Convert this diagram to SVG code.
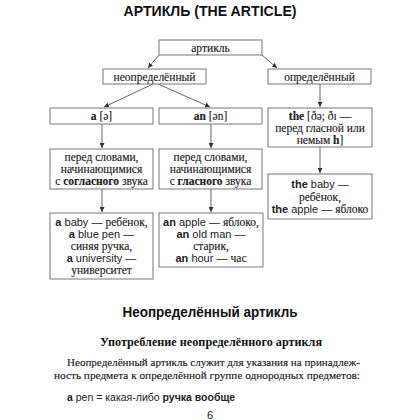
<svg xmlns="http://www.w3.org/2000/svg" width="420" height="420" viewBox="0 0 420 420">
<defs>
<marker id="ah" viewBox="0 0 8 8" refX="8" refY="4" markerWidth="5" markerHeight="5" orient="auto" markerUnits="userSpaceOnUse">
<path d="M0,0 L8,4 L0,8 z" fill="#333"/>
</marker>
</defs>
<style>
.box{fill:#fff;stroke:#777;stroke-width:1}
.ln{stroke:#555;stroke-width:0.9;fill:none;marker-end:url(#ah)}
.sr{font-size:11.5px;fill:#222;stroke:#222;stroke-width:0.15;text-anchor:middle}
.ss{font-size:11px;stroke:none}
.b{font-weight:bold}
</style>
<rect width="420" height="420" fill="#fff"/>
<text x="210" y="15.5" font-family="Liberation Sans, Arial, sans-serif" font-weight="bold" font-size="15" text-anchor="middle" fill="#111" textLength="173" lengthAdjust="spacingAndGlyphs">АРТИКЛЬ (THE ARTICLE)</text>

<g id="connectors">
<line class="ln" x1="159" y1="55" x2="148" y2="68"/>
<line class="ln" x1="262" y1="55" x2="277" y2="68"/>
<line class="ln" x1="153" y1="84" x2="104" y2="107"/>
<line class="ln" x1="158" y1="84" x2="210" y2="107"/>
<line class="ln" x1="320" y1="84" x2="320" y2="107"/>
<line class="ln" x1="102" y1="124" x2="102" y2="148"/>
<line class="ln" x1="211" y1="124" x2="211" y2="148"/>
<line class="ln" x1="102" y1="189" x2="102" y2="212"/>
<line class="ln" x1="211" y1="189" x2="211" y2="212"/>
<line class="ln" x1="320" y1="147" x2="320" y2="173"/>
</g>

<g id="nodes" font-family="Liberation Serif, DejaVu Serif, serif">
<g id="n-artikl">
<rect class="box" x="159" y="40" width="103" height="15"/>
<text class="sr" x="210.5" y="51.5">артикль</text>
</g>
<g id="n-neopr">
<rect class="box" x="103" y="69" width="103" height="15"/>
<text class="sr" x="154.5" y="80.5">неопределённый</text>
</g>
<g id="n-opr">
<rect class="box" x="268" y="69" width="103" height="15"/>
<text class="sr" x="319.5" y="80.5">определённый</text>
</g>
<g id="n-a">
<rect class="box" x="50" y="108" width="103" height="16"/>
<text class="sr" x="101.5" y="120"><tspan class="b">a</tspan> [ə]</text>
</g>
<g id="n-an">
<rect class="box" x="159" y="108" width="103" height="16"/>
<text class="sr" x="210.5" y="120"><tspan class="b">an</tspan> [ən]</text>
</g>
<g id="n-the">
<rect class="box" x="268" y="108" width="104" height="39"/>
<text class="sr" x="320" y="119.5"><tspan class="b">the</tspan> [ðə; ðɪ —</text>
<text class="sr" x="320" y="131.5">перед гласной или</text>
<text class="sr" x="320" y="143.5">немым <tspan class="b">h</tspan>]</text>
</g>
<g id="n-cons">
<rect class="box" x="50" y="149" width="103" height="40"/>
<text class="sr" x="101.5" y="160.5">перед словами,</text>
<text class="sr" x="101.5" y="172.5">начинающимися</text>
<text class="sr" x="101.5" y="184.5">с <tspan class="b">согласного</tspan> звука</text>
</g>
<g id="n-vow">
<rect class="box" x="159" y="149" width="103" height="40"/>
<text class="sr" x="210.5" y="160.5">перед словами,</text>
<text class="sr" x="210.5" y="172.5">начинающимися</text>
<text class="sr" x="210.5" y="184.5">с <tspan class="b">гласного</tspan> звука</text>
</g>
<g id="n-a-ex">
<rect class="box" x="50" y="213" width="103" height="66"/>
<text class="sr" x="101.5" y="226"><tspan class="ss b" font-family="Liberation Sans, Arial, sans-serif">a</tspan><tspan class="ss" font-family="Liberation Sans, Arial, sans-serif"> baby — </tspan>ребёнок,</text>
<text class="sr" x="101.5" y="238"><tspan class="ss b" font-family="Liberation Sans, Arial, sans-serif">a</tspan><tspan class="ss" font-family="Liberation Sans, Arial, sans-serif"> blue pen —</tspan></text>
<text class="sr" x="101.5" y="250">синяя ручка,</text>
<text class="sr" x="101.5" y="262"><tspan class="ss b" font-family="Liberation Sans, Arial, sans-serif">a</tspan><tspan class="ss" font-family="Liberation Sans, Arial, sans-serif"> university —</tspan></text>
<text class="sr" x="101.5" y="274">университет</text>
</g>
<g id="n-an-ex">
<rect class="box" x="159" y="213" width="104" height="54"/>
<text class="sr" x="211" y="226"><tspan class="ss b" font-family="Liberation Sans, Arial, sans-serif">an</tspan><tspan class="ss" font-family="Liberation Sans, Arial, sans-serif"> apple — </tspan>яблоко,</text>
<text class="sr" x="211" y="238"><tspan class="ss b" font-family="Liberation Sans, Arial, sans-serif">an</tspan><tspan class="ss" font-family="Liberation Sans, Arial, sans-serif"> old man —</tspan></text>
<text class="sr" x="211" y="250">старик,</text>
<text class="sr" x="211" y="262"><tspan class="ss b" font-family="Liberation Sans, Arial, sans-serif">an</tspan><tspan class="ss" font-family="Liberation Sans, Arial, sans-serif"> hour — </tspan>час</text>
</g>
<g id="n-the-ex">
<rect class="box" x="268" y="174" width="104" height="45"/>
<text class="sr" x="320" y="188"><tspan class="ss b" font-family="Liberation Sans, Arial, sans-serif">the</tspan><tspan class="ss" font-family="Liberation Sans, Arial, sans-serif"> baby —</tspan></text>
<text class="sr" x="320" y="201">ребёнок,</text>
<text class="sr" x="320" y="213"><tspan class="ss b" font-family="Liberation Sans, Arial, sans-serif">the</tspan><tspan class="ss" font-family="Liberation Sans, Arial, sans-serif"> apple — </tspan>яблоко</text>
</g>
</g>

<text x="210" y="317" font-family="Liberation Sans, Arial, sans-serif" font-weight="bold" font-size="14" text-anchor="middle" fill="#111" textLength="175" lengthAdjust="spacingAndGlyphs">Неопределённый артикль</text>
<text x="211" y="346" font-family="Liberation Serif, DejaVu Serif, serif" font-weight="bold" font-size="12" text-anchor="middle" fill="#111" textLength="222" lengthAdjust="spacingAndGlyphs">Употребление неопределённого артикля</text>
<text x="67" y="366" font-family="Liberation Serif, DejaVu Serif, serif" font-size="10.5" fill="#222" stroke="#222" stroke-width="0.15" textLength="293" lengthAdjust="spacingAndGlyphs">Неопределённый артикль служит для указания на принадлеж-</text>
<text x="54" y="379" font-family="Liberation Serif, DejaVu Serif, serif" font-size="10.5" fill="#222" stroke="#222" stroke-width="0.15" textLength="306" lengthAdjust="spacingAndGlyphs">ность предмета к определённой группе однородных предметов:</text>
<text x="67" y="401" font-family="Liberation Sans, Arial, sans-serif" font-size="10.5" fill="#222"><tspan font-weight="bold">a</tspan> pen = какая-либо <tspan font-weight="bold">ручка вообще</tspan></text>
<text x="210" y="419" font-family="Liberation Sans, Arial, sans-serif" font-size="11" text-anchor="middle" fill="#222">6</text>
</svg>
